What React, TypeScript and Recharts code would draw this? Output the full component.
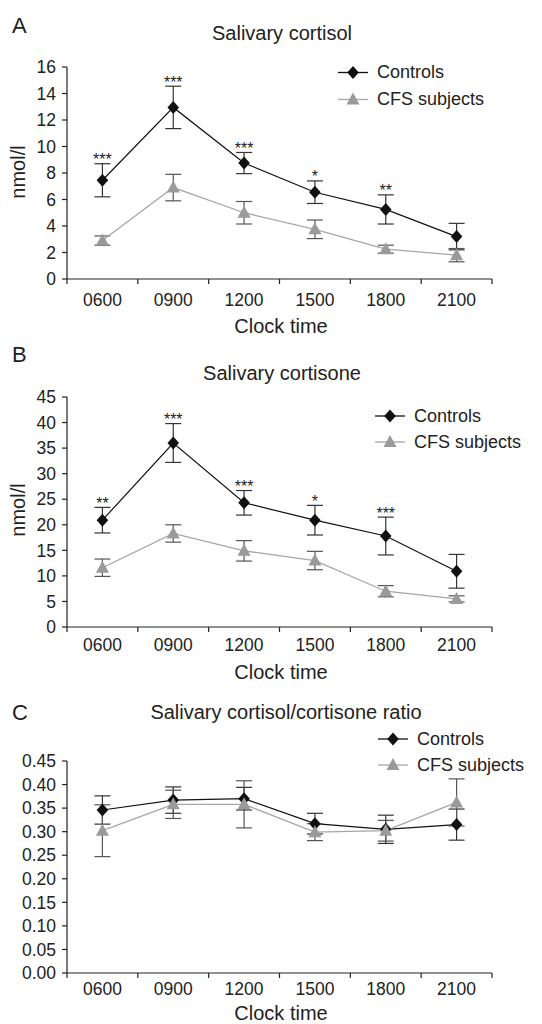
import React from 'react'
import { LineChart, Line, XAxis, YAxis, ErrorBar, LabelList, Legend } from 'recharts'

const times = ['0600', '0900', '1200', '1500', '1800', '2100']

// A: salivary cortisol (nmol/l)
const cortisolControls = [7.45, 12.95, 8.75, 6.55, 5.25, 3.2]
const cortisolControlsErr = [1.25, 1.6, 0.8, 0.85, 1.1, 1.0]
const cortisolCfs = [2.9, 6.9, 5.0, 3.75, 2.25, 1.8]
const cortisolCfsErr = [0.35, 1.0, 0.85, 0.7, 0.3, 0.5]
const cortisolSig = ['***', '***', '***', '*', '**', '']
const cortisolTicks = [0, 2, 4, 6, 8, 10, 12, 14, 16]

// B: salivary cortisone (nmol/l)
const cortisoneControls = [20.9, 36.0, 24.3, 20.9, 17.8, 10.9]
const cortisoneControlsErr = [2.5, 3.8, 2.4, 2.9, 3.7, 3.3]
const cortisoneCfs = [11.6, 18.3, 14.9, 13.0, 7.0, 5.5]
const cortisoneCfsErr = [1.7, 1.7, 2.0, 1.8, 1.1, 0.6]
const cortisoneSig = ['**', '***', '***', '*', '***', '']
const cortisoneTicks = [0, 5, 10, 15, 20, 25, 30, 35, 40, 45]

// C: cortisol/cortisone ratio
const ratioControls = [0.346, 0.367, 0.37, 0.317, 0.305, 0.315]
const ratioControlsErr = [0.03, 0.028, 0.024, 0.022, 0.03, 0.033]
const ratioCfs = [0.302, 0.358, 0.358, 0.299, 0.302, 0.362]
const ratioCfsErr = [0.055, 0.03, 0.05, 0.018, 0.022, 0.05]
const ratioTicks = [0, 0.05, 0.1, 0.15, 0.2, 0.25, 0.3, 0.35, 0.4, 0.45]

const FONT = '"Liberation Sans", Arial, Helvetica, sans-serif'
const INK = '#222'
const DARK = '#111'
const GREY = '#9a9a9a'
const GREY_LINE = '#a6a6a6'
const W = 542
const PLOT_L = 67
const PLOT_R = 492
const BW = (PLOT_R - PLOT_L) / times.length
const TICK_FS = 17.5

const Diamond = ({ cx, cy }: any) => (
  <path d={`M${cx},${cy - 6.5}L${cx + 5.8},${cy}L${cx},${cy + 6.5}L${cx - 5.8},${cy}Z`} fill={DARK} />
)
const Triangle = ({ cx, cy }: any) => (
  <path d={`M${cx},${cy - 7}L${cx + 6.5},${cy + 5}L${cx - 6.5},${cy + 5}Z`} fill={GREY} />
)

function TimeTick({ x, y, payload, index, dy }: any) {
  return (
    <g>
      <line x1={x - BW / 2} x2={x - BW / 2} y1={y} y2={y + 5} stroke={INK} strokeWidth={1.2} />
      {index === times.length - 1 && (
        <line x1={x + BW / 2} x2={x + BW / 2} y1={y} y2={y + 5} stroke={INK} strokeWidth={1.2} />
      )}
      <text x={x} y={y + dy} textAnchor="middle" fontSize={TICK_FS} fill={INK} fontFamily={FONT}>
        {payload.value}
      </text>
    </g>
  )
}

function StarLabel(props: any) {
  const { value } = props
  if (!value) return null
  const x = props.x ?? props.viewBox?.x
  const y = props.y ?? props.viewBox?.y
  return (
    <text x={x} y={y + 1.5} textAnchor="middle" fontSize={16} fill={INK} fontFamily={FONT}>
      {value}
    </text>
  )
}

function LegendBox({ gap }: { gap: number }) {
  const rows = [
    { name: 'Controls', line: DARK, mark: <Diamond cx={15} cy={gap / 2} /> },
    { name: 'CFS subjects', line: GREY_LINE, mark: <Triangle cx={15} cy={gap / 2} /> },
  ]
  return (
    <div style={{ fontFamily: FONT, fontSize: 18, color: INK }}>
      {rows.map(r => (
        <div key={r.name} style={{ display: 'flex', alignItems: 'center', height: gap, lineHeight: gap + 'px' }}>
          <svg width={30} height={gap} style={{ display: 'block' }}>
            <line x1={0} x2={30} y1={gap / 2} y2={gap / 2} stroke={r.line} strokeWidth={1.3} />
            {r.mark}
          </svg>
          <span style={{ marginLeft: 9, whiteSpace: 'nowrap' }}>{r.name}</span>
        </div>
      ))}
    </div>
  )
}

type PanelProps = {
  top: number
  height: number
  plotTop: number
  plotBottom: number
  letter: string
  letterTop: number
  title: string
  titleX: number
  titleTop: number
  yLabel?: string
  yLabelY?: number
  xLabelTop: number
  legendLeft: number
  legendTop: number
  legendGap: number
  tickDy: number
  controls: number[]
  controlsErr: number[]
  cfs: number[]
  cfsErr: number[]
  sig?: string[]
  ticks: number[]
  fmt: (v: number) => string
}

function Panel(p: PanelProps) {
  const rows = times.map((t, i) => ({
    time: t,
    c: p.controls[i],
    ce: p.controlsErr[i],
    f: p.cfs[i],
    fe: p.cfsErr[i],
    sig: p.sig ? p.sig[i] : '',
    starY: p.sig && p.sig[i] ? p.controls[i] + p.controlsErr[i] : null,
  }))
  const text = { position: 'absolute' as const, fontFamily: FONT, color: INK, whiteSpace: 'nowrap' as const }
  return (
    <div style={{ position: 'absolute', left: 0, top: p.top, width: W, height: p.height }}>
      <LineChart
        width={W}
        height={p.height}
        data={rows}
        margin={{ top: p.plotTop, right: W - PLOT_R, bottom: p.height - p.plotBottom - 30, left: PLOT_L - 60 }}
      >
        <XAxis
          dataKey="time"
          height={30}
          padding={{ left: BW / 2, right: BW / 2 }}
          axisLine={{ stroke: INK, strokeWidth: 1.2 }}
          tickLine={false}
          tickSize={0}
          tickMargin={0}
          interval={0}
          tick={(tp: any) => <TimeTick {...tp} dy={p.tickDy} />}
        />
        <YAxis
          width={60}
          type="number"
          domain={[p.ticks[0], p.ticks[p.ticks.length - 1]]}
          ticks={p.ticks}
          interval={0}
          tickFormatter={p.fmt}
          tickSize={5}
          tickMargin={6}
          axisLine={{ stroke: INK, strokeWidth: 1.2 }}
          tickLine={{ stroke: INK, strokeWidth: 1.2 }}
          tick={{ fill: INK, fontSize: TICK_FS, fontFamily: FONT }}
        />
        <Legend
          layout="vertical"
          align="center"
          verticalAlign="middle"
          wrapperStyle={{ left: p.legendLeft, top: p.legendTop, width: 180 }}
          content={() => <LegendBox gap={p.legendGap} />}
        />
        <Line
          dataKey="c"
          stroke={DARK}
          strokeWidth={1.2}
          isAnimationActive={false}
          activeDot={false}
          dot={(d: any) => <Diamond key={'c' + d.index} cx={d.cx} cy={d.cy} />}
        >
          <ErrorBar dataKey="ce" width={8} stroke="#333" strokeWidth={1.2} />
        </Line>
        <Line
          dataKey="f"
          stroke={GREY_LINE}
          strokeWidth={1.3}
          isAnimationActive={false}
          activeDot={false}
          dot={(d: any) => <Triangle key={'f' + d.index} cx={d.cx} cy={d.cy} />}
        >
          <ErrorBar dataKey="fe" width={8} stroke="#555" strokeWidth={1.2} />
        </Line>
        {p.sig && (
          <Line
            dataKey="starY"
            stroke="none"
            dot={false}
            activeDot={false}
            legendType="none"
            isAnimationActive={false}
          >
            <LabelList dataKey="sig" content={StarLabel} />
          </Line>
        )}
      </LineChart>
      <div style={{ ...text, left: 12, top: p.letterTop, fontSize: 22, lineHeight: '22px' }}>{p.letter}</div>
      <div style={{ ...text, left: p.titleX - 150, width: 300, textAlign: 'center', top: p.titleTop, fontSize: 20, lineHeight: '20px' }}>
        {p.title}
      </div>
      {p.yLabel && (
        <div
          style={{
            ...text,
            left: 18 - 50,
            top: (p.yLabelY ?? 0) - 10,
            width: 100,
            textAlign: 'center',
            fontSize: 20,
            lineHeight: '20px',
            transform: 'rotate(-90deg)',
          }}
        >
          {p.yLabel}
        </div>
      )}
      <div style={{ ...text, left: 281 - 100, width: 200, textAlign: 'center', top: p.xLabelTop, fontSize: 20, lineHeight: '20px' }}>
        Clock time
      </div>
    </div>
  )
}

export default function App() {
  return (
    <div style={{ position: 'absolute', left: 0, top: 0, width: W, height: 1024, background: '#fff', fontFamily: FONT }}>
      <Panel
        top={0}
        height={340}
        plotTop={67}
        plotBottom={279}
        letter="A"
        letterTop={15}
        title="Salivary cortisol"
        titleX={282}
        titleTop={23}
        yLabel="nmol/l"
        yLabelY={172}
        xLabelTop={316}
        legendLeft={338}
        legendTop={58.5}
        legendGap={27}
        tickDy={27}
        controls={cortisolControls}
        controlsErr={cortisolControlsErr}
        cfs={cortisolCfs}
        cfsErr={cortisolCfsErr}
        sig={cortisolSig}
        ticks={cortisolTicks}
        fmt={(v) => String(v)}
      />
      <Panel
        top={340}
        height={340}
        plotTop={57}
        plotBottom={287}
        letter="B"
        letterTop={4}
        title="Salivary cortisone"
        titleX={282}
        titleTop={23}
        yLabel="nmol/l"
        yLabelY={170}
        xLabelTop={322}
        legendLeft={375}
        legendTop={63}
        legendGap={26}
        tickDy={24}
        controls={cortisoneControls}
        controlsErr={cortisoneControlsErr}
        cfs={cortisoneCfs}
        cfsErr={cortisoneCfsErr}
        sig={cortisoneSig}
        ticks={cortisoneTicks}
        fmt={(v) => String(v)}
      />
      <Panel
        top={680}
        height={344}
        plotTop={81}
        plotBottom={293}
        letter="C"
        letterTop={22}
        title="Salivary cortisol/cortisone ratio"
        titleX={286}
        titleTop={22}
        xLabelTop={323}
        legendLeft={378}
        legendTop={46}
        legendGap={26}
        tickDy={21.5}
        controls={ratioControls}
        controlsErr={ratioControlsErr}
        cfs={ratioCfs}
        cfsErr={ratioCfsErr}
        ticks={ratioTicks}
        fmt={(v) => v.toFixed(2)}
      />
    </div>
  )
}
